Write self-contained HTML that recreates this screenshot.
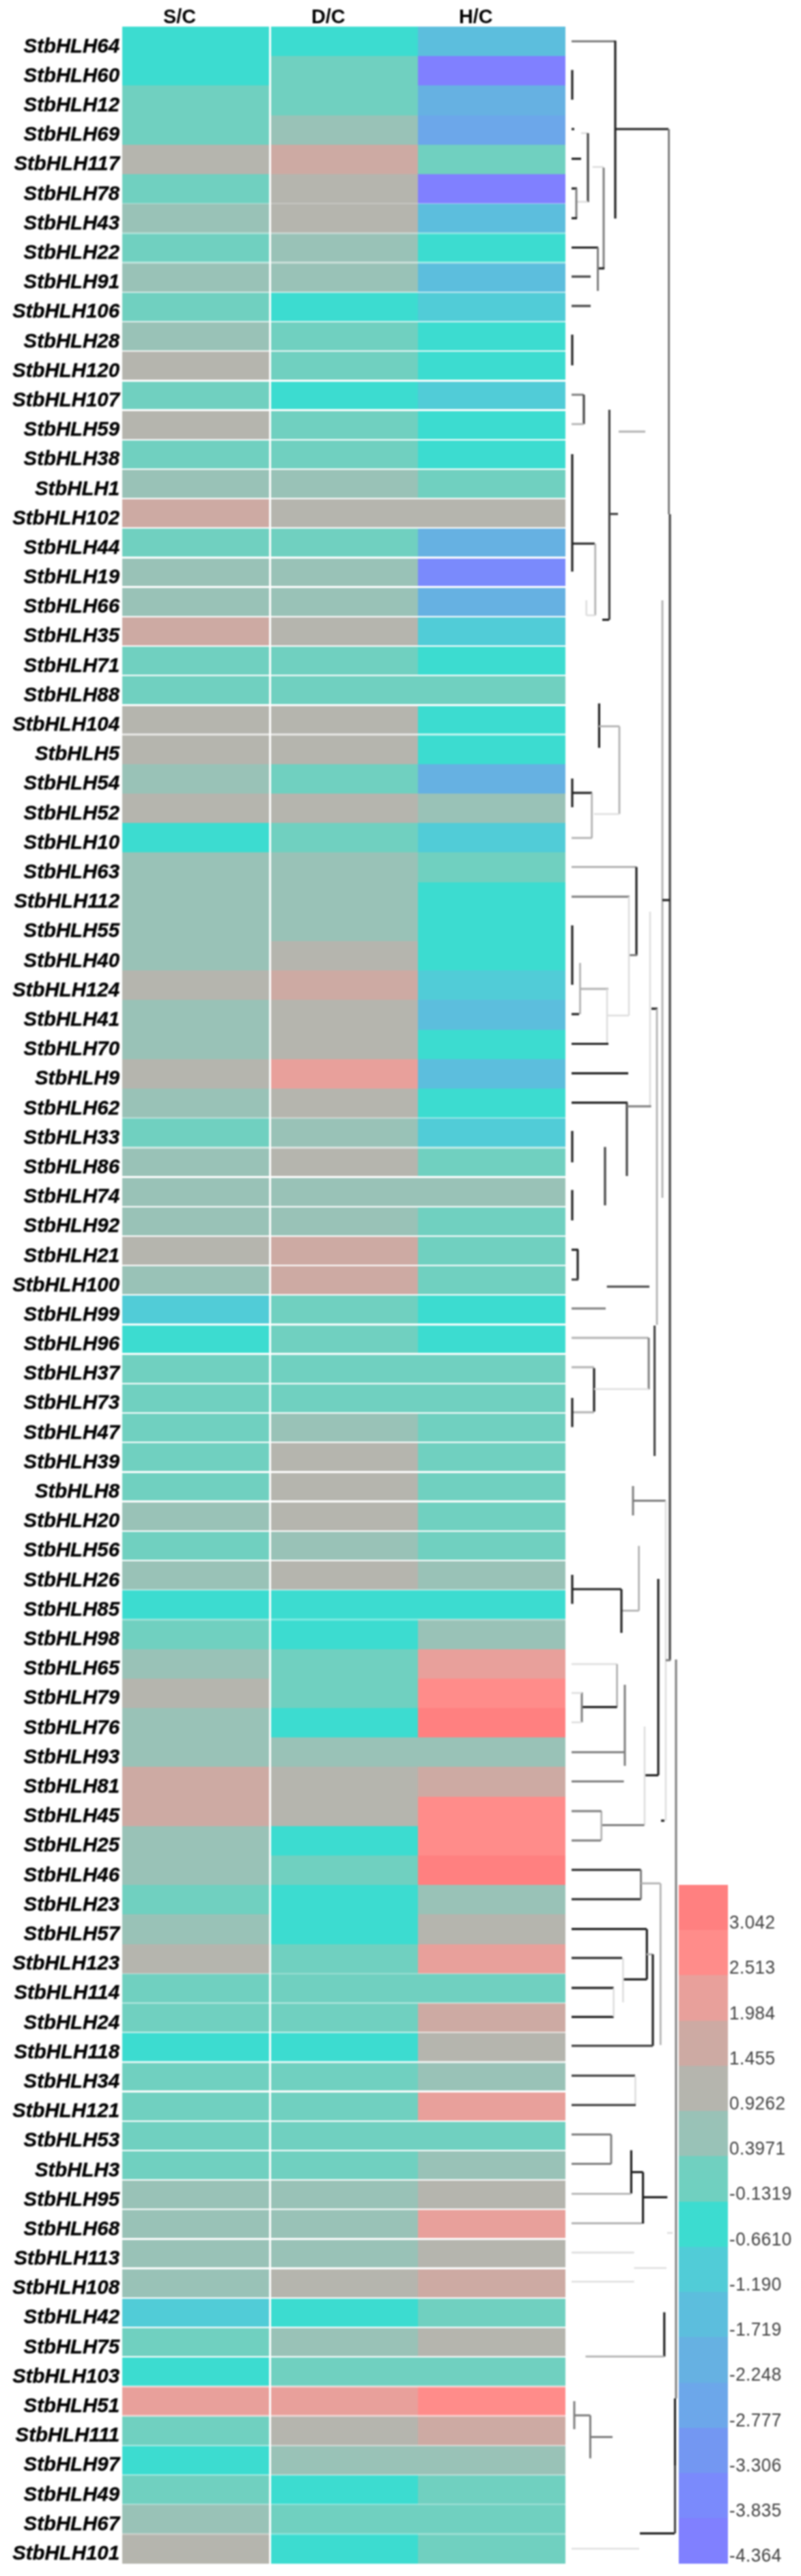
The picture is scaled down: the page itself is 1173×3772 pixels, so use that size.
<!DOCTYPE html>
<html><head><meta charset="utf-8"><title>Heatmap</title>
<style>
html,body{margin:0;padding:0;background:#fff;}
body{width:1173px;height:3772px;position:relative;overflow:hidden;font-family:"Liberation Sans",sans-serif;}
.c{position:absolute;}
.lb{position:absolute;right:998px;font:italic bold 29.4px/1 "Liberation Sans",sans-serif;color:#000;white-space:nowrap;letter-spacing:0px;-webkit-text-stroke:0.35px #000;}
.hd{position:absolute;font:bold 28.8px/1 "Liberation Sans",sans-serif;color:#000;white-space:nowrap;}
.sep{position:absolute;left:179px;width:649px;height:2.4px;background:#fff;}
.lg{position:absolute;font:28px/1 "Liberation Sans",sans-serif;color:#404040;letter-spacing:0.5px;white-space:nowrap;transform:scaleX(0.93);transform-origin:0 0;}
#w{position:absolute;left:0;top:0;width:1173px;height:3772px;filter:blur(0.8px);}
</style></head><body>
<div id="w">

<div class="hd" style="left:239px;top:10px">S/C</div>
<div class="hd" style="left:456px;top:10px">D/C</div>
<div class="hd" style="left:672px;top:10px">H/C</div>
<div class="c" style="left:179px;top:39.0px;width:216.3px;height:43.24px;background:#3CDCD0"></div>
<div class="c" style="left:395.3px;top:39.0px;width:216.7px;height:43.24px;background:#3CDCD0"></div>
<div class="c" style="left:612px;top:39.0px;width:216px;height:43.24px;background:#5CBEDD"></div>
<div class="c" style="left:179px;top:82.19px;width:216.3px;height:43.24px;background:#3CDCD0"></div>
<div class="c" style="left:395.3px;top:82.19px;width:216.7px;height:43.24px;background:#70D0C0"></div>
<div class="c" style="left:612px;top:82.19px;width:216px;height:43.24px;background:#8080FF"></div>
<div class="c" style="left:179px;top:125.39px;width:216.3px;height:43.24px;background:#70D0C0"></div>
<div class="c" style="left:395.3px;top:125.39px;width:216.7px;height:43.24px;background:#70D0C0"></div>
<div class="c" style="left:612px;top:125.39px;width:216px;height:43.24px;background:#66B1E2"></div>
<div class="c" style="left:179px;top:168.58px;width:216.3px;height:43.24px;background:#70D0C0"></div>
<div class="c" style="left:395.3px;top:168.58px;width:216.7px;height:43.24px;background:#99C2B7"></div>
<div class="c" style="left:612px;top:168.58px;width:216px;height:43.24px;background:#6CA7EA"></div>
<div class="c" style="left:179px;top:211.77px;width:216.3px;height:43.24px;background:#B5B5AE"></div>
<div class="c" style="left:395.3px;top:211.77px;width:216.7px;height:43.24px;background:#CDAAA3"></div>
<div class="c" style="left:612px;top:211.77px;width:216px;height:43.24px;background:#70D0C0"></div>
<div class="c" style="left:179px;top:254.97px;width:216.3px;height:43.24px;background:#70D0C0"></div>
<div class="c" style="left:395.3px;top:254.97px;width:216.7px;height:43.24px;background:#B5B5AE"></div>
<div class="c" style="left:612px;top:254.97px;width:216px;height:43.24px;background:#8080FF"></div>
<div class="c" style="left:179px;top:298.16px;width:216.3px;height:43.24px;background:#99C2B7"></div>
<div class="c" style="left:395.3px;top:298.16px;width:216.7px;height:43.24px;background:#B5B5AE"></div>
<div class="c" style="left:612px;top:298.16px;width:216px;height:43.24px;background:#5CBEDD"></div>
<div class="c" style="left:179px;top:341.35px;width:216.3px;height:43.24px;background:#70D0C0"></div>
<div class="c" style="left:395.3px;top:341.35px;width:216.7px;height:43.24px;background:#99C2B7"></div>
<div class="c" style="left:612px;top:341.35px;width:216px;height:43.24px;background:#3CDCD0"></div>
<div class="c" style="left:179px;top:384.54px;width:216.3px;height:43.24px;background:#99C2B7"></div>
<div class="c" style="left:395.3px;top:384.54px;width:216.7px;height:43.24px;background:#99C2B7"></div>
<div class="c" style="left:612px;top:384.54px;width:216px;height:43.24px;background:#5CBEDD"></div>
<div class="c" style="left:179px;top:427.74px;width:216.3px;height:43.24px;background:#70D0C0"></div>
<div class="c" style="left:395.3px;top:427.74px;width:216.7px;height:43.24px;background:#3CDCD0"></div>
<div class="c" style="left:612px;top:427.74px;width:216px;height:43.24px;background:#51CCD7"></div>
<div class="c" style="left:179px;top:470.93px;width:216.3px;height:43.24px;background:#99C2B7"></div>
<div class="c" style="left:395.3px;top:470.93px;width:216.7px;height:43.24px;background:#70D0C0"></div>
<div class="c" style="left:612px;top:470.93px;width:216px;height:43.24px;background:#3CDCD0"></div>
<div class="c" style="left:179px;top:514.12px;width:216.3px;height:43.24px;background:#B5B5AE"></div>
<div class="c" style="left:395.3px;top:514.12px;width:216.7px;height:43.24px;background:#70D0C0"></div>
<div class="c" style="left:612px;top:514.12px;width:216px;height:43.24px;background:#3CDCD0"></div>
<div class="c" style="left:179px;top:557.32px;width:216.3px;height:43.24px;background:#70D0C0"></div>
<div class="c" style="left:395.3px;top:557.32px;width:216.7px;height:43.24px;background:#3CDCD0"></div>
<div class="c" style="left:612px;top:557.32px;width:216px;height:43.24px;background:#51CCD7"></div>
<div class="c" style="left:179px;top:600.51px;width:216.3px;height:43.24px;background:#B5B5AE"></div>
<div class="c" style="left:395.3px;top:600.51px;width:216.7px;height:43.24px;background:#70D0C0"></div>
<div class="c" style="left:612px;top:600.51px;width:216px;height:43.24px;background:#3CDCD0"></div>
<div class="c" style="left:179px;top:643.7px;width:216.3px;height:43.24px;background:#70D0C0"></div>
<div class="c" style="left:395.3px;top:643.7px;width:216.7px;height:43.24px;background:#70D0C0"></div>
<div class="c" style="left:612px;top:643.7px;width:216px;height:43.24px;background:#3CDCD0"></div>
<div class="c" style="left:179px;top:686.9px;width:216.3px;height:43.24px;background:#99C2B7"></div>
<div class="c" style="left:395.3px;top:686.9px;width:216.7px;height:43.24px;background:#99C2B7"></div>
<div class="c" style="left:612px;top:686.9px;width:216px;height:43.24px;background:#70D0C0"></div>
<div class="c" style="left:179px;top:730.09px;width:216.3px;height:43.24px;background:#CDAAA3"></div>
<div class="c" style="left:395.3px;top:730.09px;width:216.7px;height:43.24px;background:#B5B5AE"></div>
<div class="c" style="left:612px;top:730.09px;width:216px;height:43.24px;background:#B5B5AE"></div>
<div class="c" style="left:179px;top:773.28px;width:216.3px;height:43.24px;background:#70D0C0"></div>
<div class="c" style="left:395.3px;top:773.28px;width:216.7px;height:43.24px;background:#70D0C0"></div>
<div class="c" style="left:612px;top:773.28px;width:216px;height:43.24px;background:#66B1E2"></div>
<div class="c" style="left:179px;top:816.47px;width:216.3px;height:43.24px;background:#99C2B7"></div>
<div class="c" style="left:395.3px;top:816.47px;width:216.7px;height:43.24px;background:#99C2B7"></div>
<div class="c" style="left:612px;top:816.47px;width:216px;height:43.24px;background:#7A8AFC"></div>
<div class="c" style="left:179px;top:859.67px;width:216.3px;height:43.24px;background:#99C2B7"></div>
<div class="c" style="left:395.3px;top:859.67px;width:216.7px;height:43.24px;background:#99C2B7"></div>
<div class="c" style="left:612px;top:859.67px;width:216px;height:43.24px;background:#66B1E2"></div>
<div class="c" style="left:179px;top:902.86px;width:216.3px;height:43.24px;background:#CDAAA3"></div>
<div class="c" style="left:395.3px;top:902.86px;width:216.7px;height:43.24px;background:#B5B5AE"></div>
<div class="c" style="left:612px;top:902.86px;width:216px;height:43.24px;background:#51CCD7"></div>
<div class="c" style="left:179px;top:946.05px;width:216.3px;height:43.24px;background:#70D0C0"></div>
<div class="c" style="left:395.3px;top:946.05px;width:216.7px;height:43.24px;background:#70D0C0"></div>
<div class="c" style="left:612px;top:946.05px;width:216px;height:43.24px;background:#3CDCD0"></div>
<div class="c" style="left:179px;top:989.25px;width:216.3px;height:43.24px;background:#70D0C0"></div>
<div class="c" style="left:395.3px;top:989.25px;width:216.7px;height:43.24px;background:#70D0C0"></div>
<div class="c" style="left:612px;top:989.25px;width:216px;height:43.24px;background:#70D0C0"></div>
<div class="c" style="left:179px;top:1032.44px;width:216.3px;height:43.24px;background:#B5B5AE"></div>
<div class="c" style="left:395.3px;top:1032.44px;width:216.7px;height:43.24px;background:#B5B5AE"></div>
<div class="c" style="left:612px;top:1032.44px;width:216px;height:43.24px;background:#3CDCD0"></div>
<div class="c" style="left:179px;top:1075.63px;width:216.3px;height:43.24px;background:#B5B5AE"></div>
<div class="c" style="left:395.3px;top:1075.63px;width:216.7px;height:43.24px;background:#B5B5AE"></div>
<div class="c" style="left:612px;top:1075.63px;width:216px;height:43.24px;background:#3CDCD0"></div>
<div class="c" style="left:179px;top:1118.83px;width:216.3px;height:43.24px;background:#99C2B7"></div>
<div class="c" style="left:395.3px;top:1118.83px;width:216.7px;height:43.24px;background:#70D0C0"></div>
<div class="c" style="left:612px;top:1118.83px;width:216px;height:43.24px;background:#66B1E2"></div>
<div class="c" style="left:179px;top:1162.02px;width:216.3px;height:43.24px;background:#B5B5AE"></div>
<div class="c" style="left:395.3px;top:1162.02px;width:216.7px;height:43.24px;background:#B5B5AE"></div>
<div class="c" style="left:612px;top:1162.02px;width:216px;height:43.24px;background:#99C2B7"></div>
<div class="c" style="left:179px;top:1205.21px;width:216.3px;height:43.24px;background:#3CDCD0"></div>
<div class="c" style="left:395.3px;top:1205.21px;width:216.7px;height:43.24px;background:#70D0C0"></div>
<div class="c" style="left:612px;top:1205.21px;width:216px;height:43.24px;background:#51CCD7"></div>
<div class="c" style="left:179px;top:1248.4px;width:216.3px;height:43.24px;background:#99C2B7"></div>
<div class="c" style="left:395.3px;top:1248.4px;width:216.7px;height:43.24px;background:#99C2B7"></div>
<div class="c" style="left:612px;top:1248.4px;width:216px;height:43.24px;background:#70D0C0"></div>
<div class="c" style="left:179px;top:1291.6px;width:216.3px;height:43.24px;background:#99C2B7"></div>
<div class="c" style="left:395.3px;top:1291.6px;width:216.7px;height:43.24px;background:#99C2B7"></div>
<div class="c" style="left:612px;top:1291.6px;width:216px;height:43.24px;background:#3CDCD0"></div>
<div class="c" style="left:179px;top:1334.79px;width:216.3px;height:43.24px;background:#99C2B7"></div>
<div class="c" style="left:395.3px;top:1334.79px;width:216.7px;height:43.24px;background:#99C2B7"></div>
<div class="c" style="left:612px;top:1334.79px;width:216px;height:43.24px;background:#3CDCD0"></div>
<div class="c" style="left:179px;top:1377.98px;width:216.3px;height:43.24px;background:#99C2B7"></div>
<div class="c" style="left:395.3px;top:1377.98px;width:216.7px;height:43.24px;background:#B5B5AE"></div>
<div class="c" style="left:612px;top:1377.98px;width:216px;height:43.24px;background:#3CDCD0"></div>
<div class="c" style="left:179px;top:1421.18px;width:216.3px;height:43.24px;background:#B5B5AE"></div>
<div class="c" style="left:395.3px;top:1421.18px;width:216.7px;height:43.24px;background:#CDAAA3"></div>
<div class="c" style="left:612px;top:1421.18px;width:216px;height:43.24px;background:#51CCD7"></div>
<div class="c" style="left:179px;top:1464.37px;width:216.3px;height:43.24px;background:#99C2B7"></div>
<div class="c" style="left:395.3px;top:1464.37px;width:216.7px;height:43.24px;background:#B5B5AE"></div>
<div class="c" style="left:612px;top:1464.37px;width:216px;height:43.24px;background:#5CBEDD"></div>
<div class="c" style="left:179px;top:1507.56px;width:216.3px;height:43.24px;background:#99C2B7"></div>
<div class="c" style="left:395.3px;top:1507.56px;width:216.7px;height:43.24px;background:#B5B5AE"></div>
<div class="c" style="left:612px;top:1507.56px;width:216px;height:43.24px;background:#3CDCD0"></div>
<div class="c" style="left:179px;top:1550.76px;width:216.3px;height:43.24px;background:#B5B5AE"></div>
<div class="c" style="left:395.3px;top:1550.76px;width:216.7px;height:43.24px;background:#E8A09B"></div>
<div class="c" style="left:612px;top:1550.76px;width:216px;height:43.24px;background:#5CBEDD"></div>
<div class="c" style="left:179px;top:1593.95px;width:216.3px;height:43.24px;background:#99C2B7"></div>
<div class="c" style="left:395.3px;top:1593.95px;width:216.7px;height:43.24px;background:#B5B5AE"></div>
<div class="c" style="left:612px;top:1593.95px;width:216px;height:43.24px;background:#3CDCD0"></div>
<div class="c" style="left:179px;top:1637.14px;width:216.3px;height:43.24px;background:#70D0C0"></div>
<div class="c" style="left:395.3px;top:1637.14px;width:216.7px;height:43.24px;background:#99C2B7"></div>
<div class="c" style="left:612px;top:1637.14px;width:216px;height:43.24px;background:#51CCD7"></div>
<div class="c" style="left:179px;top:1680.33px;width:216.3px;height:43.24px;background:#99C2B7"></div>
<div class="c" style="left:395.3px;top:1680.33px;width:216.7px;height:43.24px;background:#B5B5AE"></div>
<div class="c" style="left:612px;top:1680.33px;width:216px;height:43.24px;background:#70D0C0"></div>
<div class="c" style="left:179px;top:1723.53px;width:216.3px;height:43.24px;background:#99C2B7"></div>
<div class="c" style="left:395.3px;top:1723.53px;width:216.7px;height:43.24px;background:#99C2B7"></div>
<div class="c" style="left:612px;top:1723.53px;width:216px;height:43.24px;background:#99C2B7"></div>
<div class="c" style="left:179px;top:1766.72px;width:216.3px;height:43.24px;background:#99C2B7"></div>
<div class="c" style="left:395.3px;top:1766.72px;width:216.7px;height:43.24px;background:#99C2B7"></div>
<div class="c" style="left:612px;top:1766.72px;width:216px;height:43.24px;background:#70D0C0"></div>
<div class="c" style="left:179px;top:1809.91px;width:216.3px;height:43.24px;background:#B5B5AE"></div>
<div class="c" style="left:395.3px;top:1809.91px;width:216.7px;height:43.24px;background:#CDAAA3"></div>
<div class="c" style="left:612px;top:1809.91px;width:216px;height:43.24px;background:#70D0C0"></div>
<div class="c" style="left:179px;top:1853.11px;width:216.3px;height:43.24px;background:#99C2B7"></div>
<div class="c" style="left:395.3px;top:1853.11px;width:216.7px;height:43.24px;background:#CDAAA3"></div>
<div class="c" style="left:612px;top:1853.11px;width:216px;height:43.24px;background:#70D0C0"></div>
<div class="c" style="left:179px;top:1896.3px;width:216.3px;height:43.24px;background:#51CCD7"></div>
<div class="c" style="left:395.3px;top:1896.3px;width:216.7px;height:43.24px;background:#70D0C0"></div>
<div class="c" style="left:612px;top:1896.3px;width:216px;height:43.24px;background:#3CDCD0"></div>
<div class="c" style="left:179px;top:1939.49px;width:216.3px;height:43.24px;background:#3CDCD0"></div>
<div class="c" style="left:395.3px;top:1939.49px;width:216.7px;height:43.24px;background:#70D0C0"></div>
<div class="c" style="left:612px;top:1939.49px;width:216px;height:43.24px;background:#3CDCD0"></div>
<div class="c" style="left:179px;top:1982.69px;width:216.3px;height:43.24px;background:#70D0C0"></div>
<div class="c" style="left:395.3px;top:1982.69px;width:216.7px;height:43.24px;background:#70D0C0"></div>
<div class="c" style="left:612px;top:1982.69px;width:216px;height:43.24px;background:#70D0C0"></div>
<div class="c" style="left:179px;top:2025.88px;width:216.3px;height:43.24px;background:#70D0C0"></div>
<div class="c" style="left:395.3px;top:2025.88px;width:216.7px;height:43.24px;background:#70D0C0"></div>
<div class="c" style="left:612px;top:2025.88px;width:216px;height:43.24px;background:#70D0C0"></div>
<div class="c" style="left:179px;top:2069.07px;width:216.3px;height:43.24px;background:#70D0C0"></div>
<div class="c" style="left:395.3px;top:2069.07px;width:216.7px;height:43.24px;background:#99C2B7"></div>
<div class="c" style="left:612px;top:2069.07px;width:216px;height:43.24px;background:#70D0C0"></div>
<div class="c" style="left:179px;top:2112.27px;width:216.3px;height:43.24px;background:#70D0C0"></div>
<div class="c" style="left:395.3px;top:2112.27px;width:216.7px;height:43.24px;background:#B5B5AE"></div>
<div class="c" style="left:612px;top:2112.27px;width:216px;height:43.24px;background:#70D0C0"></div>
<div class="c" style="left:179px;top:2155.46px;width:216.3px;height:43.24px;background:#70D0C0"></div>
<div class="c" style="left:395.3px;top:2155.46px;width:216.7px;height:43.24px;background:#B5B5AE"></div>
<div class="c" style="left:612px;top:2155.46px;width:216px;height:43.24px;background:#70D0C0"></div>
<div class="c" style="left:179px;top:2198.65px;width:216.3px;height:43.24px;background:#99C2B7"></div>
<div class="c" style="left:395.3px;top:2198.65px;width:216.7px;height:43.24px;background:#B5B5AE"></div>
<div class="c" style="left:612px;top:2198.65px;width:216px;height:43.24px;background:#70D0C0"></div>
<div class="c" style="left:179px;top:2241.84px;width:216.3px;height:43.24px;background:#70D0C0"></div>
<div class="c" style="left:395.3px;top:2241.84px;width:216.7px;height:43.24px;background:#99C2B7"></div>
<div class="c" style="left:612px;top:2241.84px;width:216px;height:43.24px;background:#70D0C0"></div>
<div class="c" style="left:179px;top:2285.04px;width:216.3px;height:43.24px;background:#99C2B7"></div>
<div class="c" style="left:395.3px;top:2285.04px;width:216.7px;height:43.24px;background:#B5B5AE"></div>
<div class="c" style="left:612px;top:2285.04px;width:216px;height:43.24px;background:#99C2B7"></div>
<div class="c" style="left:179px;top:2328.23px;width:216.3px;height:43.24px;background:#3CDCD0"></div>
<div class="c" style="left:395.3px;top:2328.23px;width:216.7px;height:43.24px;background:#3CDCD0"></div>
<div class="c" style="left:612px;top:2328.23px;width:216px;height:43.24px;background:#3CDCD0"></div>
<div class="c" style="left:179px;top:2371.42px;width:216.3px;height:43.24px;background:#70D0C0"></div>
<div class="c" style="left:395.3px;top:2371.42px;width:216.7px;height:43.24px;background:#3CDCD0"></div>
<div class="c" style="left:612px;top:2371.42px;width:216px;height:43.24px;background:#99C2B7"></div>
<div class="c" style="left:179px;top:2414.62px;width:216.3px;height:43.24px;background:#99C2B7"></div>
<div class="c" style="left:395.3px;top:2414.62px;width:216.7px;height:43.24px;background:#70D0C0"></div>
<div class="c" style="left:612px;top:2414.62px;width:216px;height:43.24px;background:#E8A09B"></div>
<div class="c" style="left:179px;top:2457.81px;width:216.3px;height:43.24px;background:#B5B5AE"></div>
<div class="c" style="left:395.3px;top:2457.81px;width:216.7px;height:43.24px;background:#70D0C0"></div>
<div class="c" style="left:612px;top:2457.81px;width:216px;height:43.24px;background:#FF8C8A"></div>
<div class="c" style="left:179px;top:2501.0px;width:216.3px;height:43.24px;background:#99C2B7"></div>
<div class="c" style="left:395.3px;top:2501.0px;width:216.7px;height:43.24px;background:#3CDCD0"></div>
<div class="c" style="left:612px;top:2501.0px;width:216px;height:43.24px;background:#FF8080"></div>
<div class="c" style="left:179px;top:2544.2px;width:216.3px;height:43.24px;background:#99C2B7"></div>
<div class="c" style="left:395.3px;top:2544.2px;width:216.7px;height:43.24px;background:#99C2B7"></div>
<div class="c" style="left:612px;top:2544.2px;width:216px;height:43.24px;background:#99C2B7"></div>
<div class="c" style="left:179px;top:2587.39px;width:216.3px;height:43.24px;background:#CDAAA3"></div>
<div class="c" style="left:395.3px;top:2587.39px;width:216.7px;height:43.24px;background:#B5B5AE"></div>
<div class="c" style="left:612px;top:2587.39px;width:216px;height:43.24px;background:#CDAAA3"></div>
<div class="c" style="left:179px;top:2630.58px;width:216.3px;height:43.24px;background:#CDAAA3"></div>
<div class="c" style="left:395.3px;top:2630.58px;width:216.7px;height:43.24px;background:#B5B5AE"></div>
<div class="c" style="left:612px;top:2630.58px;width:216px;height:43.24px;background:#FF8C8A"></div>
<div class="c" style="left:179px;top:2673.77px;width:216.3px;height:43.24px;background:#99C2B7"></div>
<div class="c" style="left:395.3px;top:2673.77px;width:216.7px;height:43.24px;background:#3CDCD0"></div>
<div class="c" style="left:612px;top:2673.77px;width:216px;height:43.24px;background:#FF8C8A"></div>
<div class="c" style="left:179px;top:2716.97px;width:216.3px;height:43.24px;background:#99C2B7"></div>
<div class="c" style="left:395.3px;top:2716.97px;width:216.7px;height:43.24px;background:#70D0C0"></div>
<div class="c" style="left:612px;top:2716.97px;width:216px;height:43.24px;background:#FF8080"></div>
<div class="c" style="left:179px;top:2760.16px;width:216.3px;height:43.24px;background:#70D0C0"></div>
<div class="c" style="left:395.3px;top:2760.16px;width:216.7px;height:43.24px;background:#3CDCD0"></div>
<div class="c" style="left:612px;top:2760.16px;width:216px;height:43.24px;background:#99C2B7"></div>
<div class="c" style="left:179px;top:2803.35px;width:216.3px;height:43.24px;background:#99C2B7"></div>
<div class="c" style="left:395.3px;top:2803.35px;width:216.7px;height:43.24px;background:#3CDCD0"></div>
<div class="c" style="left:612px;top:2803.35px;width:216px;height:43.24px;background:#B5B5AE"></div>
<div class="c" style="left:179px;top:2846.55px;width:216.3px;height:43.24px;background:#B5B5AE"></div>
<div class="c" style="left:395.3px;top:2846.55px;width:216.7px;height:43.24px;background:#70D0C0"></div>
<div class="c" style="left:612px;top:2846.55px;width:216px;height:43.24px;background:#E8A09B"></div>
<div class="c" style="left:179px;top:2889.74px;width:216.3px;height:43.24px;background:#70D0C0"></div>
<div class="c" style="left:395.3px;top:2889.74px;width:216.7px;height:43.24px;background:#70D0C0"></div>
<div class="c" style="left:612px;top:2889.74px;width:216px;height:43.24px;background:#70D0C0"></div>
<div class="c" style="left:179px;top:2932.93px;width:216.3px;height:43.24px;background:#70D0C0"></div>
<div class="c" style="left:395.3px;top:2932.93px;width:216.7px;height:43.24px;background:#70D0C0"></div>
<div class="c" style="left:612px;top:2932.93px;width:216px;height:43.24px;background:#CDAAA3"></div>
<div class="c" style="left:179px;top:2976.13px;width:216.3px;height:43.24px;background:#3CDCD0"></div>
<div class="c" style="left:395.3px;top:2976.13px;width:216.7px;height:43.24px;background:#3CDCD0"></div>
<div class="c" style="left:612px;top:2976.13px;width:216px;height:43.24px;background:#B5B5AE"></div>
<div class="c" style="left:179px;top:3019.32px;width:216.3px;height:43.24px;background:#70D0C0"></div>
<div class="c" style="left:395.3px;top:3019.32px;width:216.7px;height:43.24px;background:#70D0C0"></div>
<div class="c" style="left:612px;top:3019.32px;width:216px;height:43.24px;background:#99C2B7"></div>
<div class="c" style="left:179px;top:3062.51px;width:216.3px;height:43.24px;background:#70D0C0"></div>
<div class="c" style="left:395.3px;top:3062.51px;width:216.7px;height:43.24px;background:#70D0C0"></div>
<div class="c" style="left:612px;top:3062.51px;width:216px;height:43.24px;background:#E8A09B"></div>
<div class="c" style="left:179px;top:3105.7px;width:216.3px;height:43.24px;background:#70D0C0"></div>
<div class="c" style="left:395.3px;top:3105.7px;width:216.7px;height:43.24px;background:#70D0C0"></div>
<div class="c" style="left:612px;top:3105.7px;width:216px;height:43.24px;background:#70D0C0"></div>
<div class="c" style="left:179px;top:3148.9px;width:216.3px;height:43.24px;background:#70D0C0"></div>
<div class="c" style="left:395.3px;top:3148.9px;width:216.7px;height:43.24px;background:#70D0C0"></div>
<div class="c" style="left:612px;top:3148.9px;width:216px;height:43.24px;background:#99C2B7"></div>
<div class="c" style="left:179px;top:3192.09px;width:216.3px;height:43.24px;background:#99C2B7"></div>
<div class="c" style="left:395.3px;top:3192.09px;width:216.7px;height:43.24px;background:#99C2B7"></div>
<div class="c" style="left:612px;top:3192.09px;width:216px;height:43.24px;background:#B5B5AE"></div>
<div class="c" style="left:179px;top:3235.28px;width:216.3px;height:43.24px;background:#99C2B7"></div>
<div class="c" style="left:395.3px;top:3235.28px;width:216.7px;height:43.24px;background:#99C2B7"></div>
<div class="c" style="left:612px;top:3235.28px;width:216px;height:43.24px;background:#E8A09B"></div>
<div class="c" style="left:179px;top:3278.48px;width:216.3px;height:43.24px;background:#99C2B7"></div>
<div class="c" style="left:395.3px;top:3278.48px;width:216.7px;height:43.24px;background:#99C2B7"></div>
<div class="c" style="left:612px;top:3278.48px;width:216px;height:43.24px;background:#B5B5AE"></div>
<div class="c" style="left:179px;top:3321.67px;width:216.3px;height:43.24px;background:#99C2B7"></div>
<div class="c" style="left:395.3px;top:3321.67px;width:216.7px;height:43.24px;background:#B5B5AE"></div>
<div class="c" style="left:612px;top:3321.67px;width:216px;height:43.24px;background:#CDAAA3"></div>
<div class="c" style="left:179px;top:3364.86px;width:216.3px;height:43.24px;background:#51CCD7"></div>
<div class="c" style="left:395.3px;top:3364.86px;width:216.7px;height:43.24px;background:#3CDCD0"></div>
<div class="c" style="left:612px;top:3364.86px;width:216px;height:43.24px;background:#70D0C0"></div>
<div class="c" style="left:179px;top:3408.06px;width:216.3px;height:43.24px;background:#70D0C0"></div>
<div class="c" style="left:395.3px;top:3408.06px;width:216.7px;height:43.24px;background:#99C2B7"></div>
<div class="c" style="left:612px;top:3408.06px;width:216px;height:43.24px;background:#B5B5AE"></div>
<div class="c" style="left:179px;top:3451.25px;width:216.3px;height:43.24px;background:#3CDCD0"></div>
<div class="c" style="left:395.3px;top:3451.25px;width:216.7px;height:43.24px;background:#70D0C0"></div>
<div class="c" style="left:612px;top:3451.25px;width:216px;height:43.24px;background:#70D0C0"></div>
<div class="c" style="left:179px;top:3494.44px;width:216.3px;height:43.24px;background:#E8A09B"></div>
<div class="c" style="left:395.3px;top:3494.44px;width:216.7px;height:43.24px;background:#E8A09B"></div>
<div class="c" style="left:612px;top:3494.44px;width:216px;height:43.24px;background:#FF8C8A"></div>
<div class="c" style="left:179px;top:3537.63px;width:216.3px;height:43.24px;background:#70D0C0"></div>
<div class="c" style="left:395.3px;top:3537.63px;width:216.7px;height:43.24px;background:#B5B5AE"></div>
<div class="c" style="left:612px;top:3537.63px;width:216px;height:43.24px;background:#CDAAA3"></div>
<div class="c" style="left:179px;top:3580.83px;width:216.3px;height:43.24px;background:#3CDCD0"></div>
<div class="c" style="left:395.3px;top:3580.83px;width:216.7px;height:43.24px;background:#99C2B7"></div>
<div class="c" style="left:612px;top:3580.83px;width:216px;height:43.24px;background:#99C2B7"></div>
<div class="c" style="left:179px;top:3624.02px;width:216.3px;height:43.24px;background:#70D0C0"></div>
<div class="c" style="left:395.3px;top:3624.02px;width:216.7px;height:43.24px;background:#3CDCD0"></div>
<div class="c" style="left:612px;top:3624.02px;width:216px;height:43.24px;background:#70D0C0"></div>
<div class="c" style="left:179px;top:3667.21px;width:216.3px;height:43.24px;background:#99C2B7"></div>
<div class="c" style="left:395.3px;top:3667.21px;width:216.7px;height:43.24px;background:#70D0C0"></div>
<div class="c" style="left:612px;top:3667.21px;width:216px;height:43.24px;background:#70D0C0"></div>
<div class="c" style="left:179px;top:3710.41px;width:216.3px;height:43.24px;background:#B5B5AE"></div>
<div class="c" style="left:395.3px;top:3710.41px;width:216.7px;height:43.24px;background:#3CDCD0"></div>
<div class="c" style="left:612px;top:3710.41px;width:216px;height:43.24px;background:#70D0C0"></div>
<div class="sep" style="top:296.96px;opacity:0.25"></div>
<div class="sep" style="top:340.15px;opacity:0.37"></div>
<div class="sep" style="top:383.34px;opacity:0.49"></div>
<div class="sep" style="top:426.54px;opacity:0.61"></div>
<div class="sep" style="top:469.73px;opacity:0.73"></div>
<div class="sep" style="top:512.92px;opacity:0.85"></div>
<div class="sep" style="top:556.12px;opacity:1.0"></div>
<div class="sep" style="top:599.31px;opacity:1.0"></div>
<div class="sep" style="top:642.5px;opacity:1.0"></div>
<div class="sep" style="top:685.7px;opacity:1.0"></div>
<div class="sep" style="top:728.89px;opacity:1.0"></div>
<div class="sep" style="top:772.08px;opacity:1.0"></div>
<div class="sep" style="top:815.27px;opacity:1.0"></div>
<div class="sep" style="top:858.47px;opacity:1.0"></div>
<div class="sep" style="top:901.66px;opacity:1.0"></div>
<div class="sep" style="top:944.85px;opacity:1.0"></div>
<div class="sep" style="top:988.05px;opacity:1.0"></div>
<div class="sep" style="top:1031.24px;opacity:1.0"></div>
<div class="sep" style="top:1074.43px;opacity:0.7"></div>
<div class="sep" style="top:1722.33px;opacity:1.0"></div>
<div class="sep" style="top:1765.52px;opacity:1.0"></div>
<div class="sep" style="top:1808.71px;opacity:1.0"></div>
<div class="sep" style="top:1851.91px;opacity:1.0"></div>
<div class="sep" style="top:1895.1px;opacity:1.0"></div>
<div class="sep" style="top:1938.29px;opacity:1.0"></div>
<div class="sep" style="top:1981.49px;opacity:1.0"></div>
<div class="sep" style="top:2024.68px;opacity:1.0"></div>
<div class="sep" style="top:2067.87px;opacity:1.0"></div>
<div class="sep" style="top:2111.07px;opacity:1.0"></div>
<div class="sep" style="top:2154.26px;opacity:1.0"></div>
<div class="sep" style="top:2197.45px;opacity:1.0"></div>
<div class="sep" style="top:2240.64px;opacity:1.0"></div>
<div class="sep" style="top:2283.84px;opacity:1.0"></div>
<div class="sep" style="top:1635.94px;opacity:0.45"></div>
<div class="sep" style="top:1679.13px;opacity:0.6"></div>
<div class="sep" style="top:2327.03px;opacity:0.5"></div>
<div class="sep" style="top:2370.22px;opacity:0.35"></div>
<div class="sep" style="top:3018.12px;opacity:0.8"></div>
<div class="sep" style="top:3061.31px;opacity:1.0"></div>
<div class="sep" style="top:3104.5px;opacity:1.0"></div>
<div class="sep" style="top:3147.7px;opacity:1.0"></div>
<div class="sep" style="top:3190.89px;opacity:1.0"></div>
<div class="sep" style="top:3234.08px;opacity:1.0"></div>
<div class="sep" style="top:3277.28px;opacity:1.0"></div>
<div class="sep" style="top:3320.47px;opacity:1.0"></div>
<div class="sep" style="top:3363.66px;opacity:1.0"></div>
<div class="sep" style="top:3406.86px;opacity:1.0"></div>
<div class="sep" style="top:3450.05px;opacity:1.0"></div>
<div class="sep" style="top:2888.54px;opacity:0.3"></div>
<div class="sep" style="top:2931.73px;opacity:0.5"></div>
<div class="sep" style="top:2974.93px;opacity:0.65"></div>
<div class="sep" style="top:3493.24px;opacity:0.55"></div>
<div class="sep" style="top:3536.43px;opacity:0.5"></div>
<div class="sep" style="top:3579.63px;opacity:0.5"></div>
<div class="sep" style="top:3622.82px;opacity:0.45"></div>
<div class="sep" style="top:3666.01px;opacity:0.35"></div>
<div class="sep" style="top:3709.21px;opacity:0.3"></div>
<div class="c" style="left:394.4px;top:39.0px;width:3px;height:3714.6px;background:#fff"></div>
<div class="lb" style="top:51.6px">StbHLH64</div>
<div class="lb" style="top:94.79px">StbHLH60</div>
<div class="lb" style="top:137.99px">StbHLH12</div>
<div class="lb" style="top:181.18px">StbHLH69</div>
<div class="lb" style="top:224.37px">StbHLH117</div>
<div class="lb" style="top:267.57px">StbHLH78</div>
<div class="lb" style="top:310.76px">StbHLH43</div>
<div class="lb" style="top:353.95px">StbHLH22</div>
<div class="lb" style="top:397.14px">StbHLH91</div>
<div class="lb" style="top:440.34px">StbHLH106</div>
<div class="lb" style="top:483.53px">StbHLH28</div>
<div class="lb" style="top:526.72px">StbHLH120</div>
<div class="lb" style="top:569.92px">StbHLH107</div>
<div class="lb" style="top:613.11px">StbHLH59</div>
<div class="lb" style="top:656.3px">StbHLH38</div>
<div class="lb" style="top:699.5px">StbHLH1</div>
<div class="lb" style="top:742.69px">StbHLH102</div>
<div class="lb" style="top:785.88px">StbHLH44</div>
<div class="lb" style="top:829.07px">StbHLH19</div>
<div class="lb" style="top:872.27px">StbHLH66</div>
<div class="lb" style="top:915.46px">StbHLH35</div>
<div class="lb" style="top:958.65px">StbHLH71</div>
<div class="lb" style="top:1001.85px">StbHLH88</div>
<div class="lb" style="top:1045.04px">StbHLH104</div>
<div class="lb" style="top:1088.23px">StbHLH5</div>
<div class="lb" style="top:1131.43px">StbHLH54</div>
<div class="lb" style="top:1174.62px">StbHLH52</div>
<div class="lb" style="top:1217.81px">StbHLH10</div>
<div class="lb" style="top:1261.0px">StbHLH63</div>
<div class="lb" style="top:1304.2px">StbHLH112</div>
<div class="lb" style="top:1347.39px">StbHLH55</div>
<div class="lb" style="top:1390.58px">StbHLH40</div>
<div class="lb" style="top:1433.78px">StbHLH124</div>
<div class="lb" style="top:1476.97px">StbHLH41</div>
<div class="lb" style="top:1520.16px">StbHLH70</div>
<div class="lb" style="top:1563.36px">StbHLH9</div>
<div class="lb" style="top:1606.55px">StbHLH62</div>
<div class="lb" style="top:1649.74px">StbHLH33</div>
<div class="lb" style="top:1692.93px">StbHLH86</div>
<div class="lb" style="top:1736.13px">StbHLH74</div>
<div class="lb" style="top:1779.32px">StbHLH92</div>
<div class="lb" style="top:1822.51px">StbHLH21</div>
<div class="lb" style="top:1865.71px">StbHLH100</div>
<div class="lb" style="top:1908.9px">StbHLH99</div>
<div class="lb" style="top:1952.09px">StbHLH96</div>
<div class="lb" style="top:1995.29px">StbHLH37</div>
<div class="lb" style="top:2038.48px">StbHLH73</div>
<div class="lb" style="top:2081.67px">StbHLH47</div>
<div class="lb" style="top:2124.87px">StbHLH39</div>
<div class="lb" style="top:2168.06px">StbHLH8</div>
<div class="lb" style="top:2211.25px">StbHLH20</div>
<div class="lb" style="top:2254.44px">StbHLH56</div>
<div class="lb" style="top:2297.64px">StbHLH26</div>
<div class="lb" style="top:2340.83px">StbHLH85</div>
<div class="lb" style="top:2384.02px">StbHLH98</div>
<div class="lb" style="top:2427.22px">StbHLH65</div>
<div class="lb" style="top:2470.41px">StbHLH79</div>
<div class="lb" style="top:2513.6px">StbHLH76</div>
<div class="lb" style="top:2556.8px">StbHLH93</div>
<div class="lb" style="top:2599.99px">StbHLH81</div>
<div class="lb" style="top:2643.18px">StbHLH45</div>
<div class="lb" style="top:2686.37px">StbHLH25</div>
<div class="lb" style="top:2729.57px">StbHLH46</div>
<div class="lb" style="top:2772.76px">StbHLH23</div>
<div class="lb" style="top:2815.95px">StbHLH57</div>
<div class="lb" style="top:2859.15px">StbHLH123</div>
<div class="lb" style="top:2902.34px">StbHLH114</div>
<div class="lb" style="top:2945.53px">StbHLH24</div>
<div class="lb" style="top:2988.73px">StbHLH118</div>
<div class="lb" style="top:3031.92px">StbHLH34</div>
<div class="lb" style="top:3075.11px">StbHLH121</div>
<div class="lb" style="top:3118.3px">StbHLH53</div>
<div class="lb" style="top:3161.5px">StbHLH3</div>
<div class="lb" style="top:3204.69px">StbHLH95</div>
<div class="lb" style="top:3247.88px">StbHLH68</div>
<div class="lb" style="top:3291.08px">StbHLH113</div>
<div class="lb" style="top:3334.27px">StbHLH108</div>
<div class="lb" style="top:3377.46px">StbHLH42</div>
<div class="lb" style="top:3420.66px">StbHLH75</div>
<div class="lb" style="top:3463.85px">StbHLH103</div>
<div class="lb" style="top:3507.04px">StbHLH51</div>
<div class="lb" style="top:3550.23px">StbHLH111</div>
<div class="lb" style="top:3593.43px">StbHLH97</div>
<div class="lb" style="top:3636.62px">StbHLH49</div>
<div class="lb" style="top:3679.81px">StbHLH67</div>
<div class="lb" style="top:3723.01px">StbHLH101</div>
<svg class="c" style="left:0;top:0" width="1173" height="3772" viewBox="0 0 1173 3772">
<line x1="837" y1="60.5" x2="901" y2="60.5" stroke="#7c7c7c" stroke-width="3.0"/>
<line x1="901" y1="59.5" x2="901" y2="320" stroke="#202020" stroke-width="3.2"/>
<line x1="901" y1="189" x2="979" y2="189" stroke="#202020" stroke-width="3.2"/>
<line x1="979.5" y1="189" x2="979.5" y2="753" stroke="#7c7c7c" stroke-width="3.0"/>
<line x1="838" y1="102.5" x2="838" y2="146" stroke="#202020" stroke-width="3.2"/>
<line x1="837" y1="189" x2="841" y2="189" stroke="#202020" stroke-width="3.2"/>
<line x1="851" y1="195" x2="861" y2="195" stroke="#dedede" stroke-width="2.6"/>
<line x1="861" y1="195" x2="861" y2="296" stroke="#444444" stroke-width="3.2"/>
<line x1="845" y1="295.5" x2="861" y2="295.5" stroke="#dedede" stroke-width="2.6"/>
<line x1="837" y1="232.5" x2="851" y2="232.5" stroke="#202020" stroke-width="3.2"/>
<line x1="837" y1="276" x2="845" y2="276" stroke="#202020" stroke-width="3.2"/>
<line x1="844" y1="276" x2="844" y2="319.5" stroke="#7c7c7c" stroke-width="3.0"/>
<line x1="837" y1="319.5" x2="845" y2="319.5" stroke="#202020" stroke-width="3.2"/>
<line x1="867.5" y1="244.5" x2="884" y2="244.5" stroke="#dedede" stroke-width="2.6"/>
<line x1="884" y1="245.5" x2="884" y2="394" stroke="#7c7c7c" stroke-width="3.0"/>
<line x1="876" y1="393" x2="885" y2="393" stroke="#202020" stroke-width="3.2"/>
<line x1="837" y1="362.5" x2="876" y2="362.5" stroke="#202020" stroke-width="3.2"/>
<line x1="875.5" y1="362.5" x2="875.5" y2="426" stroke="#7c7c7c" stroke-width="3.0"/>
<line x1="837" y1="405" x2="865" y2="405" stroke="#444444" stroke-width="3.2"/>
<line x1="837" y1="448" x2="865" y2="448" stroke="#444444" stroke-width="3.2"/>
<line x1="838" y1="490" x2="838" y2="535" stroke="#202020" stroke-width="3.2"/>
<line x1="837" y1="578" x2="855" y2="578" stroke="#7c7c7c" stroke-width="3.0"/>
<line x1="855" y1="578" x2="855" y2="621" stroke="#444444" stroke-width="3.2"/>
<line x1="837" y1="621" x2="855" y2="621" stroke="#b2b2b2" stroke-width="2.8"/>
<line x1="892.4" y1="600" x2="892.4" y2="907.5" stroke="#444444" stroke-width="3.2"/>
<line x1="906" y1="632" x2="945" y2="632" stroke="#b2b2b2" stroke-width="2.8"/>
<line x1="892" y1="752.6" x2="905" y2="752.6" stroke="#444444" stroke-width="3.2"/>
<line x1="838" y1="665" x2="838" y2="837" stroke="#202020" stroke-width="3.2"/>
<line x1="838" y1="796" x2="871" y2="796" stroke="#202020" stroke-width="3.2"/>
<line x1="871.7" y1="796" x2="871.7" y2="901" stroke="#b2b2b2" stroke-width="2.8"/>
<line x1="858.7" y1="901" x2="871.7" y2="901" stroke="#dedede" stroke-width="2.6"/>
<line x1="858.7" y1="879" x2="858.7" y2="901" stroke="#dedede" stroke-width="2.6"/>
<line x1="981" y1="753" x2="981" y2="2431" stroke="#444444" stroke-width="3.2"/>
<line x1="970" y1="879" x2="970" y2="1754" stroke="#b2b2b2" stroke-width="2.8"/>
<line x1="882" y1="907.5" x2="892" y2="907.5" stroke="#202020" stroke-width="3.2"/>
<line x1="970" y1="1318" x2="981" y2="1318" stroke="#202020" stroke-width="3.2"/>
<line x1="877.4" y1="1030" x2="877.4" y2="1095" stroke="#202020" stroke-width="3.2"/>
<line x1="877" y1="1063.5" x2="907" y2="1063.5" stroke="#b2b2b2" stroke-width="2.8"/>
<line x1="907" y1="1063.5" x2="907" y2="1192" stroke="#b2b2b2" stroke-width="2.8"/>
<line x1="870" y1="1192" x2="907" y2="1192" stroke="#dedede" stroke-width="2.6"/>
<line x1="838" y1="1140" x2="838" y2="1182" stroke="#202020" stroke-width="3.2"/>
<line x1="838" y1="1161" x2="867" y2="1161" stroke="#202020" stroke-width="3.2"/>
<line x1="866.7" y1="1161" x2="866.7" y2="1227" stroke="#b2b2b2" stroke-width="2.8"/>
<line x1="837" y1="1227" x2="867" y2="1227" stroke="#b2b2b2" stroke-width="2.8"/>
<line x1="837" y1="1269.5" x2="932" y2="1269.5" stroke="#b2b2b2" stroke-width="2.8"/>
<line x1="932" y1="1269.5" x2="932" y2="1399" stroke="#202020" stroke-width="3.2"/>
<line x1="837" y1="1313" x2="922" y2="1313" stroke="#7c7c7c" stroke-width="3.0"/>
<line x1="922" y1="1398.6" x2="933" y2="1398.6" stroke="#7c7c7c" stroke-width="3.0"/>
<line x1="921" y1="1313" x2="921" y2="1487" stroke="#dedede" stroke-width="2.6"/>
<line x1="952" y1="1335" x2="952" y2="1620" stroke="#dedede" stroke-width="2.6"/>
<line x1="838" y1="1355" x2="838" y2="1442" stroke="#202020" stroke-width="3.2"/>
<line x1="849.5" y1="1410" x2="849.5" y2="1485" stroke="#b2b2b2" stroke-width="2.8"/>
<line x1="849.5" y1="1448" x2="891" y2="1448" stroke="#b2b2b2" stroke-width="2.8"/>
<line x1="837" y1="1485" x2="848" y2="1485" stroke="#202020" stroke-width="3.2"/>
<line x1="889" y1="1448" x2="889" y2="1527" stroke="#dedede" stroke-width="2.6"/>
<line x1="889" y1="1487" x2="921" y2="1487" stroke="#dedede" stroke-width="2.6"/>
<line x1="837" y1="1528.5" x2="891" y2="1528.5" stroke="#202020" stroke-width="3.2"/>
<line x1="837" y1="1571.7" x2="920" y2="1571.7" stroke="#202020" stroke-width="3.2"/>
<line x1="837" y1="1614.6" x2="919" y2="1614.6" stroke="#202020" stroke-width="3.2"/>
<line x1="918" y1="1614.6" x2="918" y2="1722" stroke="#444444" stroke-width="3.2"/>
<line x1="918" y1="1620" x2="953.6" y2="1620" stroke="#7c7c7c" stroke-width="3.0"/>
<line x1="954" y1="1477" x2="963" y2="1477" stroke="#202020" stroke-width="3.2"/>
<line x1="962" y1="1477" x2="962" y2="1940" stroke="#b2b2b2" stroke-width="2.8"/>
<line x1="838" y1="1656" x2="838" y2="1702" stroke="#202020" stroke-width="3.2"/>
<line x1="886" y1="1679.5" x2="886" y2="1765" stroke="#444444" stroke-width="3.2"/>
<line x1="838" y1="1742.5" x2="838" y2="1787" stroke="#202020" stroke-width="3.2"/>
<line x1="837" y1="1830" x2="847" y2="1830" stroke="#202020" stroke-width="3.2"/>
<line x1="846" y1="1830" x2="846" y2="1873.6" stroke="#202020" stroke-width="3.2"/>
<line x1="837" y1="1873.6" x2="847" y2="1873.6" stroke="#444444" stroke-width="3.2"/>
<line x1="888.7" y1="1884" x2="951" y2="1884" stroke="#444444" stroke-width="3.2"/>
<line x1="837" y1="1916" x2="887" y2="1916" stroke="#7c7c7c" stroke-width="3.0"/>
<line x1="837" y1="1959" x2="950" y2="1959" stroke="#b2b2b2" stroke-width="2.8"/>
<line x1="950" y1="1959" x2="950" y2="2034.6" stroke="#7c7c7c" stroke-width="3.0"/>
<line x1="958.6" y1="1941" x2="958.6" y2="2132" stroke="#444444" stroke-width="3.2"/>
<line x1="837" y1="2002" x2="870" y2="2002" stroke="#b2b2b2" stroke-width="2.8"/>
<line x1="870" y1="2003.4" x2="870" y2="2067" stroke="#202020" stroke-width="3.2"/>
<line x1="870" y1="2034" x2="950" y2="2034" stroke="#dedede" stroke-width="2.6"/>
<line x1="837" y1="2068" x2="870" y2="2068" stroke="#b2b2b2" stroke-width="2.8"/>
<line x1="838" y1="2047" x2="838" y2="2089.6" stroke="#202020" stroke-width="3.2"/>
<line x1="927" y1="2176" x2="927" y2="2219" stroke="#7c7c7c" stroke-width="3.0"/>
<line x1="927" y1="2197.5" x2="975" y2="2197.5" stroke="#7c7c7c" stroke-width="3.0"/>
<line x1="975" y1="2197.5" x2="975" y2="2666" stroke="#dedede" stroke-width="2.6"/>
<line x1="975" y1="2431" x2="982" y2="2431" stroke="#7c7c7c" stroke-width="3.0"/>
<line x1="990" y1="2430" x2="990" y2="3512" stroke="#7c7c7c" stroke-width="3.0"/>
<line x1="935.6" y1="2263.6" x2="935.6" y2="2358.5" stroke="#b2b2b2" stroke-width="2.8"/>
<line x1="910" y1="2358.5" x2="935.6" y2="2358.5" stroke="#b2b2b2" stroke-width="2.8"/>
<line x1="838" y1="2306" x2="838" y2="2348.5" stroke="#202020" stroke-width="3.2"/>
<line x1="838" y1="2327" x2="910" y2="2327" stroke="#202020" stroke-width="3.2"/>
<line x1="910" y1="2327" x2="910" y2="2391" stroke="#202020" stroke-width="3.2"/>
<line x1="964" y1="2312" x2="964" y2="2599.5" stroke="#202020" stroke-width="3.2"/>
<line x1="943.6" y1="2599.5" x2="964" y2="2599.5" stroke="#202020" stroke-width="3.2"/>
<line x1="944" y1="2528" x2="944" y2="2672" stroke="#dedede" stroke-width="2.6"/>
<line x1="837" y1="2436.7" x2="903.6" y2="2436.7" stroke="#dedede" stroke-width="2.6"/>
<line x1="903.6" y1="2436.7" x2="903.6" y2="2499.6" stroke="#b2b2b2" stroke-width="2.8"/>
<line x1="852.5" y1="2499.6" x2="903.6" y2="2499.6" stroke="#202020" stroke-width="3.2"/>
<line x1="852" y1="2478" x2="852" y2="2522" stroke="#7c7c7c" stroke-width="3.0"/>
<line x1="837" y1="2479" x2="852" y2="2479" stroke="#dedede" stroke-width="2.6"/>
<line x1="837" y1="2522" x2="852" y2="2522" stroke="#dedede" stroke-width="2.6"/>
<line x1="915" y1="2467" x2="915" y2="2585.7" stroke="#7c7c7c" stroke-width="3.0"/>
<line x1="837" y1="2565.8" x2="915" y2="2565.8" stroke="#7c7c7c" stroke-width="3.0"/>
<line x1="837" y1="2608.5" x2="913.6" y2="2608.5" stroke="#7c7c7c" stroke-width="3.0"/>
<line x1="880.7" y1="2672.4" x2="943.6" y2="2672.4" stroke="#7c7c7c" stroke-width="3.0"/>
<line x1="880.7" y1="2652" x2="880.7" y2="2695" stroke="#b2b2b2" stroke-width="2.8"/>
<line x1="837" y1="2652" x2="880.7" y2="2652" stroke="#7c7c7c" stroke-width="3.0"/>
<line x1="837" y1="2695" x2="880" y2="2695" stroke="#7c7c7c" stroke-width="3.0"/>
<line x1="968" y1="2666" x2="973" y2="2666" stroke="#202020" stroke-width="3.2"/>
<line x1="837" y1="2738" x2="938.6" y2="2738" stroke="#202020" stroke-width="3.2"/>
<line x1="837" y1="2781" x2="938.6" y2="2781" stroke="#202020" stroke-width="3.2"/>
<line x1="938.6" y1="2738" x2="938.6" y2="2781" stroke="#7c7c7c" stroke-width="3.0"/>
<line x1="938.6" y1="2757.8" x2="967" y2="2757.8" stroke="#b2b2b2" stroke-width="2.8"/>
<line x1="967.3" y1="2757.8" x2="967.3" y2="2994.5" stroke="#b2b2b2" stroke-width="2.8"/>
<line x1="837" y1="2824.7" x2="947" y2="2824.7" stroke="#202020" stroke-width="3.2"/>
<line x1="947.3" y1="2824.7" x2="947.3" y2="2898.4" stroke="#202020" stroke-width="3.2"/>
<line x1="912.4" y1="2898.4" x2="947.3" y2="2898.4" stroke="#202020" stroke-width="3.2"/>
<line x1="837" y1="2867" x2="911" y2="2867" stroke="#202020" stroke-width="3.2"/>
<line x1="912.4" y1="2867" x2="912.4" y2="2932" stroke="#dedede" stroke-width="2.6"/>
<line x1="837" y1="2910.9" x2="898.7" y2="2910.9" stroke="#202020" stroke-width="3.2"/>
<line x1="837" y1="2953.3" x2="898.7" y2="2953.3" stroke="#202020" stroke-width="3.2"/>
<line x1="898.7" y1="2911" x2="898.7" y2="2953" stroke="#dedede" stroke-width="2.6"/>
<line x1="947" y1="2861.7" x2="956" y2="2861.7" stroke="#b2b2b2" stroke-width="2.8"/>
<line x1="956" y1="2861.7" x2="956" y2="2995.7" stroke="#202020" stroke-width="3.2"/>
<line x1="837" y1="2995.7" x2="956" y2="2995.7" stroke="#444444" stroke-width="3.2"/>
<line x1="837" y1="3039.4" x2="930" y2="3039.4" stroke="#444444" stroke-width="3.2"/>
<line x1="930.4" y1="3040" x2="930.4" y2="3082.4" stroke="#dedede" stroke-width="2.6"/>
<line x1="837" y1="3082.4" x2="931" y2="3082.4" stroke="#444444" stroke-width="3.2"/>
<line x1="837" y1="3125.6" x2="895" y2="3125.6" stroke="#7c7c7c" stroke-width="3.0"/>
<line x1="895" y1="3125.6" x2="895" y2="3168.6" stroke="#7c7c7c" stroke-width="3.0"/>
<line x1="837" y1="3168.6" x2="895" y2="3168.6" stroke="#7c7c7c" stroke-width="3.0"/>
<line x1="924.4" y1="3148.6" x2="924.4" y2="3212" stroke="#202020" stroke-width="3.2"/>
<line x1="837" y1="3212.3" x2="924.4" y2="3212.3" stroke="#b2b2b2" stroke-width="2.8"/>
<line x1="924.4" y1="3180.6" x2="941.6" y2="3180.6" stroke="#202020" stroke-width="3.2"/>
<line x1="941.6" y1="3180.6" x2="941.6" y2="3256" stroke="#202020" stroke-width="3.2"/>
<line x1="941.6" y1="3217.3" x2="977.3" y2="3217.3" stroke="#202020" stroke-width="3.2"/>
<line x1="837" y1="3255.5" x2="940" y2="3255.5" stroke="#b2b2b2" stroke-width="2.8"/>
<line x1="977" y1="3269.7" x2="985" y2="3269.7" stroke="#dedede" stroke-width="2.6"/>
<line x1="837" y1="3298.4" x2="928.6" y2="3298.4" stroke="#dedede" stroke-width="2.6"/>
<line x1="928.6" y1="3321" x2="976" y2="3321" stroke="#dedede" stroke-width="2.6"/>
<line x1="837" y1="3341" x2="928.6" y2="3341" stroke="#dedede" stroke-width="2.6"/>
<line x1="972.8" y1="3385.8" x2="972.8" y2="3450.7" stroke="#202020" stroke-width="3.2"/>
<line x1="857.5" y1="3450.7" x2="972.8" y2="3450.7" stroke="#b2b2b2" stroke-width="2.8"/>
<line x1="988.5" y1="3512" x2="988.5" y2="3610" stroke="#202020" stroke-width="3.2"/>
<line x1="988.5" y1="3610" x2="988.5" y2="3709.6" stroke="#444444" stroke-width="3.2"/>
<line x1="937" y1="3709.6" x2="988" y2="3709.6" stroke="#202020" stroke-width="3.2"/>
<line x1="841" y1="3516" x2="841" y2="3557" stroke="#7c7c7c" stroke-width="3.0"/>
<line x1="841" y1="3536.8" x2="864.4" y2="3536.8" stroke="#7c7c7c" stroke-width="3.0"/>
<line x1="864.4" y1="3536.8" x2="864.4" y2="3599.7" stroke="#7c7c7c" stroke-width="3.0"/>
<line x1="864.4" y1="3568.5" x2="897" y2="3568.5" stroke="#7c7c7c" stroke-width="3.0"/>
<line x1="837" y1="3732" x2="936" y2="3732" stroke="#dedede" stroke-width="2.6"/>
</svg>
<div class="c" style="left:994px;top:2760.0px;width:72px;height:66.53px;background:#FF8080"></div>
<div class="lg" style="left:1067.5px;top:2801.03px">3.042</div>
<div class="c" style="left:994px;top:2826.23px;width:72px;height:66.53px;background:#FF8C8A"></div>
<div class="lg" style="left:1067.5px;top:2867.27px">2.513</div>
<div class="c" style="left:994px;top:2892.47px;width:72px;height:66.53px;background:#E8A09B"></div>
<div class="lg" style="left:1067.5px;top:2933.5px">1.984</div>
<div class="c" style="left:994px;top:2958.7px;width:72px;height:66.53px;background:#CDAAA3"></div>
<div class="lg" style="left:1067.5px;top:2999.73px">1.455</div>
<div class="c" style="left:994px;top:3024.93px;width:72px;height:66.53px;background:#B5B5AE"></div>
<div class="lg" style="left:1067.5px;top:3065.97px">0.9262</div>
<div class="c" style="left:994px;top:3091.17px;width:72px;height:66.53px;background:#99C2B7"></div>
<div class="lg" style="left:1067.5px;top:3132.2px">0.3971</div>
<div class="c" style="left:994px;top:3157.4px;width:72px;height:66.53px;background:#70D0C0"></div>
<div class="lg" style="left:1067.5px;top:3198.43px">-0.1319</div>
<div class="c" style="left:994px;top:3223.63px;width:72px;height:66.53px;background:#3CDCD0"></div>
<div class="lg" style="left:1067.5px;top:3264.67px">-0.6610</div>
<div class="c" style="left:994px;top:3289.87px;width:72px;height:66.53px;background:#51CCD7"></div>
<div class="lg" style="left:1067.5px;top:3330.9px">-1.190</div>
<div class="c" style="left:994px;top:3356.1px;width:72px;height:66.53px;background:#5CBEDD"></div>
<div class="lg" style="left:1067.5px;top:3397.13px">-1.719</div>
<div class="c" style="left:994px;top:3422.33px;width:72px;height:66.53px;background:#66B1E2"></div>
<div class="lg" style="left:1067.5px;top:3463.37px">-2.248</div>
<div class="c" style="left:994px;top:3488.57px;width:72px;height:66.53px;background:#6CA7EA"></div>
<div class="lg" style="left:1067.5px;top:3529.6px">-2.777</div>
<div class="c" style="left:994px;top:3554.8px;width:72px;height:66.53px;background:#7397F2"></div>
<div class="lg" style="left:1067.5px;top:3595.83px">-3.306</div>
<div class="c" style="left:994px;top:3621.03px;width:72px;height:66.53px;background:#7A8AFC"></div>
<div class="lg" style="left:1067.5px;top:3662.07px">-3.835</div>
<div class="c" style="left:994px;top:3687.27px;width:72px;height:66.53px;background:#8080FF"></div>
<div class="lg" style="left:1067.5px;top:3728.3px">-4.364</div>
</div></body></html>
